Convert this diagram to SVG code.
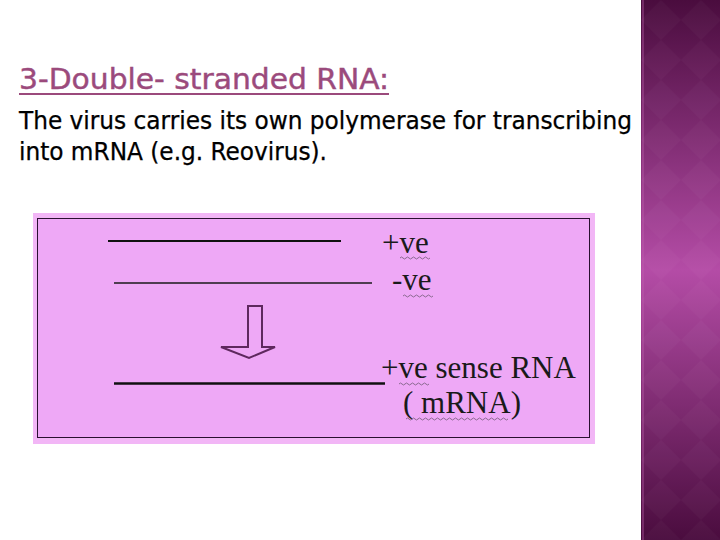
<svg xmlns="http://www.w3.org/2000/svg" width="720" height="540" viewBox="0 0 720 540">
<defs>
<linearGradient id="side" x1="0" y1="0" x2="0" y2="1">
<stop offset="0" stop-color="#4a0c3e"/>
<stop offset="0.5" stop-color="#b44ca6"/>
<stop offset="1" stop-color="#4a0c3e"/>
</linearGradient>
<pattern id="dia" width="40" height="40" patternUnits="userSpaceOnUse" x="641" y="0">
<path d="M20 0 L40 20 L20 40 L0 20 Z" fill="#ffffff" fill-opacity="0.025"/>
</pattern>
<style>
.title{font-family:"DejaVu Sans Condensed","DejaVu Sans","Liberation Sans",sans-serif;font-size:29px;fill:#9b4a7c;stroke:#9b4a7c;stroke-width:0.4}
.body{font-family:"DejaVu Sans Condensed","DejaVu Sans","Liberation Sans",sans-serif;font-size:24px;fill:#000;stroke:#000;stroke-width:0.25}
.lab{font-family:"Liberation Serif","Times New Roman",serif;font-size:31px;fill:#1a1a1a}
.wavy{fill:none;stroke:#8a6a90;stroke-width:1}
</style>
</defs>
<rect width="720" height="540" fill="#ffffff"/>
<g id="sidebar">
<rect x="641" y="0" width="79" height="540" fill="url(#side)"/>
<rect x="641" y="0" width="79" height="540" fill="url(#dia)"/>
<rect x="642" y="0" width="2" height="540" fill="#c060b0" fill-opacity="0.35"/>
</g>
<g id="heading">
<text class="title" x="19" y="89" textLength="370" lengthAdjust="spacingAndGlyphs">3-Double- stranded RNA:</text>
<rect x="19" y="93" width="370" height="2" fill="#9b4a7c"/>
<text class="body" x="19" y="129" textLength="613" lengthAdjust="spacingAndGlyphs">The virus carries its own polymerase for transcribing</text>
<text class="body" x="19" y="160" textLength="308" lengthAdjust="spacingAndGlyphs">into mRNA (e.g. Reovirus).</text>
</g>
<g id="panel">
<rect x="33" y="213" width="562" height="231" fill="#f2b6f6"/>
<rect x="37.5" y="218.5" width="552" height="219" fill="#eea8f6" stroke="#2a1030" stroke-width="1"/>
</g>
<g id="connectors">
<line x1="108" y1="241" x2="341" y2="241" stroke="#111" stroke-width="2"/>
<line x1="114" y1="283" x2="372" y2="283" stroke="#1a1a1a" stroke-width="1.3"/>
<line x1="114" y1="383.5" x2="385" y2="383.5" stroke="#111" stroke-width="2.5"/>
</g>
<g id="arrow">
<path d="M248 306 H262 V347 H275 L249 358 L221 347 H248 Z" fill="none" stroke="#5e285e" stroke-width="2" stroke-linejoin="miter"/>
</g>
<g id="label-pos">
<text class="lab" x="382" y="253">+ve</text>
<path class="wavy" d="M400 258 q1.5 -2 3 0 t3 0 t3 0 t3 0 t3 0 t3 0 t3 0 t3 0 t3 0 t3 0"/>
</g>
<g id="label-neg">
<text class="lab" x="392" y="290">-ve</text>
<path class="wavy" d="M403 296 q1.5 -2 3 0 t3 0 t3 0 t3 0 t3 0 t3 0 t3 0 t3 0 t3 0 t3 0"/>
</g>
<g id="label-mrna">
<text class="lab" x="381" y="378">+ve sense RNA</text>
<path class="wavy" d="M399 384 q1.5 -2 3 0 t3 0 t3 0 t3 0 t3 0 t3 0 t3 0 t3 0 t3 0 t3 0"/>
<text class="lab" x="403" y="413">( mRNA)</text>
<path class="wavy" d="M406 419 q1.5 -2 3 0 t3 0 t3 0 t3 0 t3 0 t3 0 t3 0 t3 0 t3 0 t3 0 t3 0 t3 0 t3 0 t3 0 t3 0 t3 0 t3 0 t3 0 t3 0 t3 0 t3 0 t3 0 t3 0 t3 0 t3 0 t3 0 t3 0 t3 0 t3 0 t3 0 t3 0 t3 0 t3 0 t3 0"/>
</g>
</svg>
